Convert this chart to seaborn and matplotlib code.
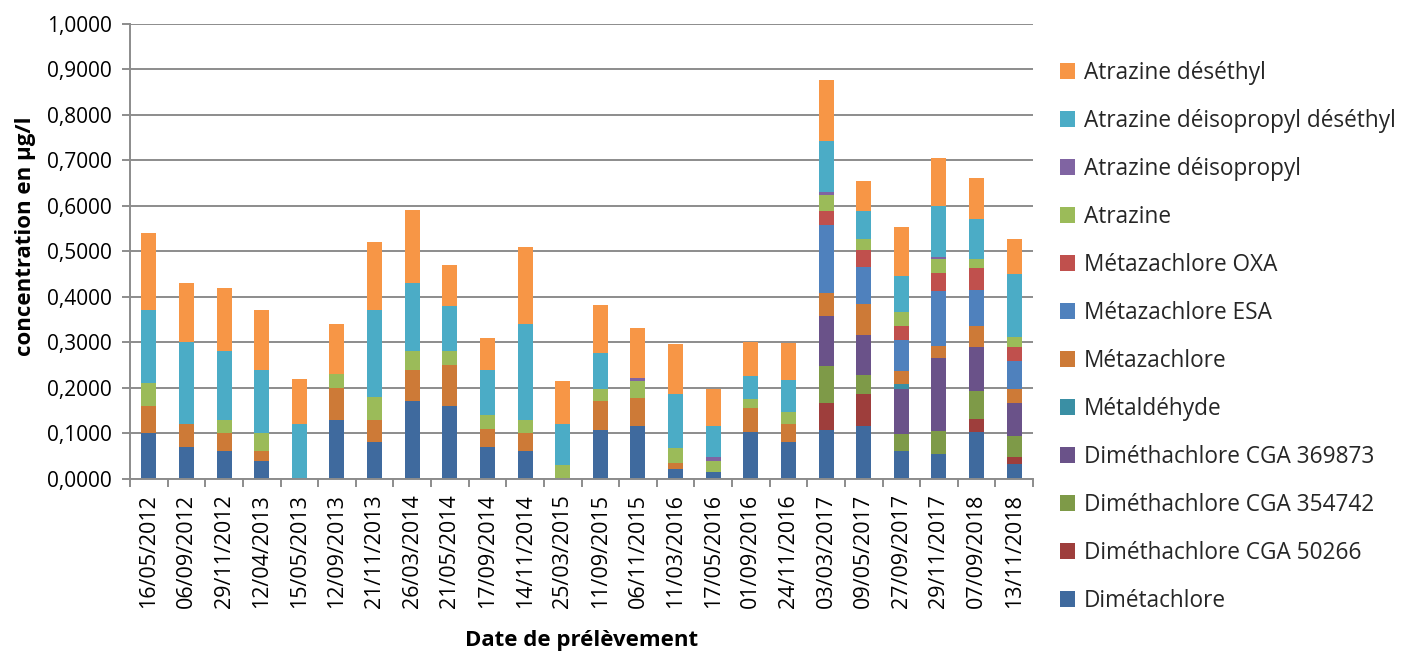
import numpy as np
import matplotlib
matplotlib.use("Agg")
import matplotlib.pyplot as plt
import seaborn as sns
from matplotlib.patches import Patch
from matplotlib.ticker import FuncFormatter, MultipleLocator, FixedLocator

dates = ["16/05/2012", "06/09/2012", "29/11/2012", "12/04/2013", "15/05/2013",
         "12/09/2013", "21/11/2013", "26/03/2014", "21/05/2014", "17/09/2014",
         "14/11/2014", "25/03/2015", "11/09/2015", "06/11/2015", "11/03/2016",
         "17/05/2016", "01/09/2016", "24/11/2016", "03/03/2017", "09/05/2017",
         "27/09/2017", "29/11/2017", "07/09/2018", "13/11/2018"]

dimetachlore = [0.10, 0.07, 0.06, 0.04, 0.0, 0.13, 0.08, 0.17, 0.16, 0.07, 0.06, 0.0,
                0.107, 0.116, 0.021, 0.015, 0.103, 0.08, 0.107, 0.117, 0.06, 0.055, 0.102, 0.032]
cga_50266 = [0, 0, 0, 0, 0, 0, 0, 0, 0, 0, 0, 0,
             0, 0, 0, 0, 0, 0, 0.06, 0.07, 0, 0, 0.03, 0.016]
cga_354742 = [0, 0, 0, 0, 0, 0, 0, 0, 0, 0, 0, 0,
              0, 0, 0, 0, 0, 0, 0.08, 0.04, 0.039, 0.05, 0.06, 0.047]
cga_369873 = [0, 0, 0, 0, 0, 0, 0, 0, 0, 0, 0, 0,
              0, 0, 0, 0, 0, 0, 0.11, 0.089, 0.099, 0.16, 0.098, 0.072]
metaldehyde = [0, 0, 0, 0, 0, 0, 0, 0, 0, 0, 0, 0,
               0, 0, 0, 0, 0, 0, 0, 0, 0.011, 0, 0, 0]
metazachlore = [0.06, 0.05, 0.04, 0.02, 0, 0.07, 0.05, 0.07, 0.09, 0.04, 0.04, 0,
                0.063, 0.062, 0.013, 0, 0.053, 0.041, 0.052, 0.069, 0.028, 0.027, 0.045, 0.03]
metazachlore_esa = [0, 0, 0, 0, 0, 0, 0, 0, 0, 0, 0, 0,
                    0, 0, 0, 0, 0, 0, 0.15, 0.08, 0.069, 0.12, 0.081, 0.062]
metazachlore_oxa = [0, 0, 0, 0, 0, 0, 0, 0, 0, 0, 0, 0,
                    0, 0, 0, 0, 0, 0, 0.03, 0.038, 0.03, 0.04, 0.048, 0.03]
atrazine = [0.05, 0, 0.03, 0.04, 0, 0.03, 0.05, 0.04, 0.03, 0.03, 0.03, 0.03,
            0.027, 0.037, 0.033, 0.025, 0.02, 0.026, 0.035, 0.024, 0.03, 0.031, 0.019, 0.022]
atrazine_deisopropyl = [0, 0, 0, 0, 0, 0, 0, 0, 0, 0, 0, 0,
                        0, 0.007, 0, 0.007, 0, 0, 0.007, 0, 0, 0.005, 0, 0]
atrazine_dia_dea = [0.16, 0.18, 0.15, 0.14, 0.12, 0, 0.19, 0.15, 0.10, 0.10, 0.21, 0.09,
                    0.08, 0, 0.12, 0.07, 0.05, 0.071, 0.111, 0.061, 0.08, 0.111, 0.088, 0.14]
atrazine_deethyl = [0.17, 0.13, 0.14, 0.13, 0.10, 0.11, 0.15, 0.16, 0.09, 0.07, 0.17, 0.095,
                    0.106, 0.109, 0.11, 0.08, 0.074, 0.08, 0.134, 0.067, 0.107, 0.106, 0.09, 0.076]

series_names = ["Dimétachlore", "Diméthachlore CGA 50266", "Diméthachlore CGA 354742",
                "Diméthachlore CGA 369873", "Métaldéhyde", "Métazachlore",
                "Métazachlore ESA", "Métazachlore OXA", "Atrazine",
                "Atrazine déisopropyl", "Atrazine déisopropyl déséthyl", "Atrazine déséthyl"]
series_values = [dimetachlore, cga_50266, cga_354742, cga_369873, metaldehyde, metazachlore,
                 metazachlore_esa, metazachlore_oxa, atrazine, atrazine_deisopropyl,
                 atrazine_dia_dea, atrazine_deethyl]
series_colors = ["#3F6A9E", "#9E3E3C", "#7E9A48", "#6A5289", "#3A8FA4", "#CD7A37",
                 "#4F81BD", "#C0504D", "#9BBB59", "#8064A2", "#4BACC6", "#F79646"]

sns.set_theme(style="white")
plt.rcParams["font.family"] = ["Open Sans", "DejaVu Sans"]

fig = plt.figure(figsize=(14.08, 6.53), dpi=100)
ax = fig.add_axes([130 / 1408, 1 - 478.7 / 653, 903 / 1408, 454.7 / 653])

cums = np.cumsum(np.array(series_values, dtype=float), axis=0)
for i in range(len(series_names) - 1, -1, -1):
    sns.barplot(x=dates, y=cums[i], order=dates, color=series_colors[i], saturation=1,
                width=0.4, errorbar=None, linewidth=0, ax=ax)

grid_c = "#8C8C8C"
ax.set_ylim(0, 1.0)
ax.set_xlim(-0.5, len(dates) - 0.5)
ax.yaxis.set_major_locator(MultipleLocator(0.1))
ax.yaxis.set_major_formatter(FuncFormatter(lambda v, p: f"{v:.4f}".replace(".", ",")))
ax.grid(axis="y", color=grid_c, linewidth=1.4)
ax.grid(axis="x", visible=False)
ax.set_axisbelow(True)
for s in ["top", "right"]:
    ax.spines[s].set_visible(False)
for s in ["left", "bottom"]:
    ax.spines[s].set_color(grid_c)
    ax.spines[s].set_linewidth(1.4)

ax.tick_params(axis="y", left=True, length=6, width=1.4, color=grid_c, labelsize=15,
               pad=7, labelcolor="#000000")
ax.tick_params(axis="x", which="major", bottom=True, length=0, labelsize=15.5, pad=11,
               labelrotation=90, labelcolor="#000000")
ax.xaxis.set_minor_locator(FixedLocator(np.arange(-0.5, len(dates), 1.0)))
ax.tick_params(axis="x", which="minor", bottom=True, length=6, width=1.4, color=grid_c)

ax.set_xlabel("Date de prélèvement", fontsize=16, fontweight="bold", color="#000000")
ax.xaxis.set_label_coords(0.5, -0.333)
ax.set_ylabel("concentration en µg/l", fontsize=16, fontweight="bold", color="#000000")
ax.yaxis.set_label_coords(-0.104, 0.534)

handles = [Patch(facecolor=series_colors[i], edgecolor="none", label=series_names[i])
           for i in range(len(series_names) - 1, -1, -1)]
fig.legend(handles=handles, loc="upper left", bbox_to_anchor=(1060 / 1408, 1 - 61 / 653),
           frameon=False, fontsize=16.3, handlelength=0.65, handleheight=0.65,
           handletextpad=0.42, labelspacing=1.06, borderpad=0, borderaxespad=0)

fig.savefig("out.png", dpi=100)
